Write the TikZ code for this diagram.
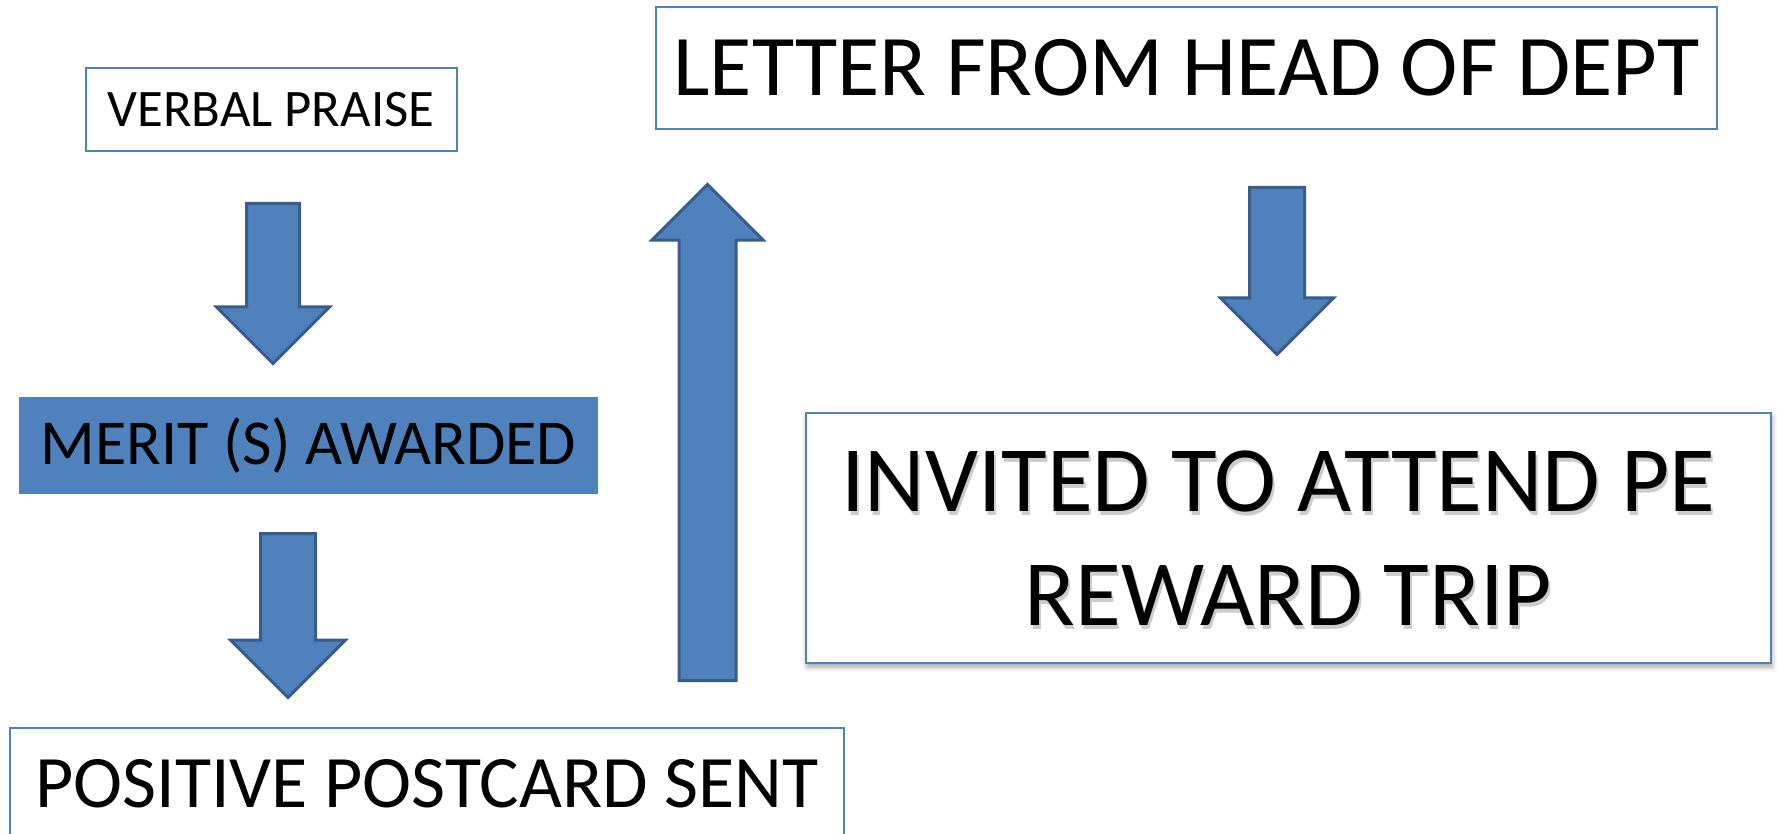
\documentclass[tikz,border=0pt]{standalone}
\usepackage{fontspec}
\setmainfont{Carlito}
\usetikzlibrary{positioning,shapes.arrows,shadows.blur}
\definecolor{officeblue}{HTML}{4F81BD}
\definecolor{arrowline}{HTML}{385D8A}

\begin{document}
\begin{tikzpicture}[x=1pt,y=-1pt,
    stage/.style={draw=officeblue,line width=2pt,fill=white,inner sep=0pt,align=center,text=black},
    tripfont/.style={align=center,inner sep=0pt,font=\fontsize{93.5}{114}\selectfont},
    blockarrow/.style={single arrow,draw=arrowline,line width=3pt,fill=officeblue,inner xsep=0pt,single arrow head extend=#1,anchor=tail}]
    \useasboundingbox (0,0) rectangle (1777,834);
    \clip (0,0) rectangle (1777,834);
    % left column
    \node[stage,minimum width=371,minimum height=83,font=\fontsize{52.7}{60}\selectfont] (praise) at (271,109.5) {VERBAL PRAISE};
    \node[fill=officeblue,inner sep=0pt,minimum width=579,minimum height=97,font=\fontsize{64}{70}\selectfont] (merit) at (308.5,445.5) {MERIT (S) AWARDED};
    \node[stage,minimum width=834,minimum height=111,font=\fontsize{74}{80}\selectfont] (postcard) at (427,783.5) {POSITIVE POSTCARD SENT};
    % right column
    \node[stage,minimum width=1061,minimum height=122,font=\fontsize{86.5}{95}\selectfont] (letter) at (1186.5,68) {LETTER FROM HEAD OF DEPT};
    \node[stage,minimum width=965,minimum height=250,
          blur shadow={shadow xshift=1pt,shadow yshift=-4pt,shadow blur radius=5pt,shadow opacity=35}] (invited) at (1288.5,538) {};
    \node[tripfont,text=black!20] (invitedshade) at ([shift={(2,4)}]invited.center) {INVITED TO ATTEND PE\kern.22em\\REWARD TRIP};
    \node[tripfont,text=black] (invitedtext) at (invited.center) {INVITED TO ATTEND PE\kern.22em\\REWARD TRIP};
    % block arrows
    \node[blockarrow=30,minimum height=160,inner ysep=25,rotate=-90] (praisearrow) at (273,202) {};
    \node[blockarrow=30,minimum height=164,inner ysep=26,rotate=-90] (meritarrow) at (288,532) {};
    \node[blockarrow=27,minimum height=496,inner ysep=27,rotate=90] (postcardarrow) at (707.5,682) {};
    \node[blockarrow=29,minimum height=167,inner ysep=26,rotate=-90] (letterarrow) at (1277,186) {};
\end{tikzpicture}
\end{document}
